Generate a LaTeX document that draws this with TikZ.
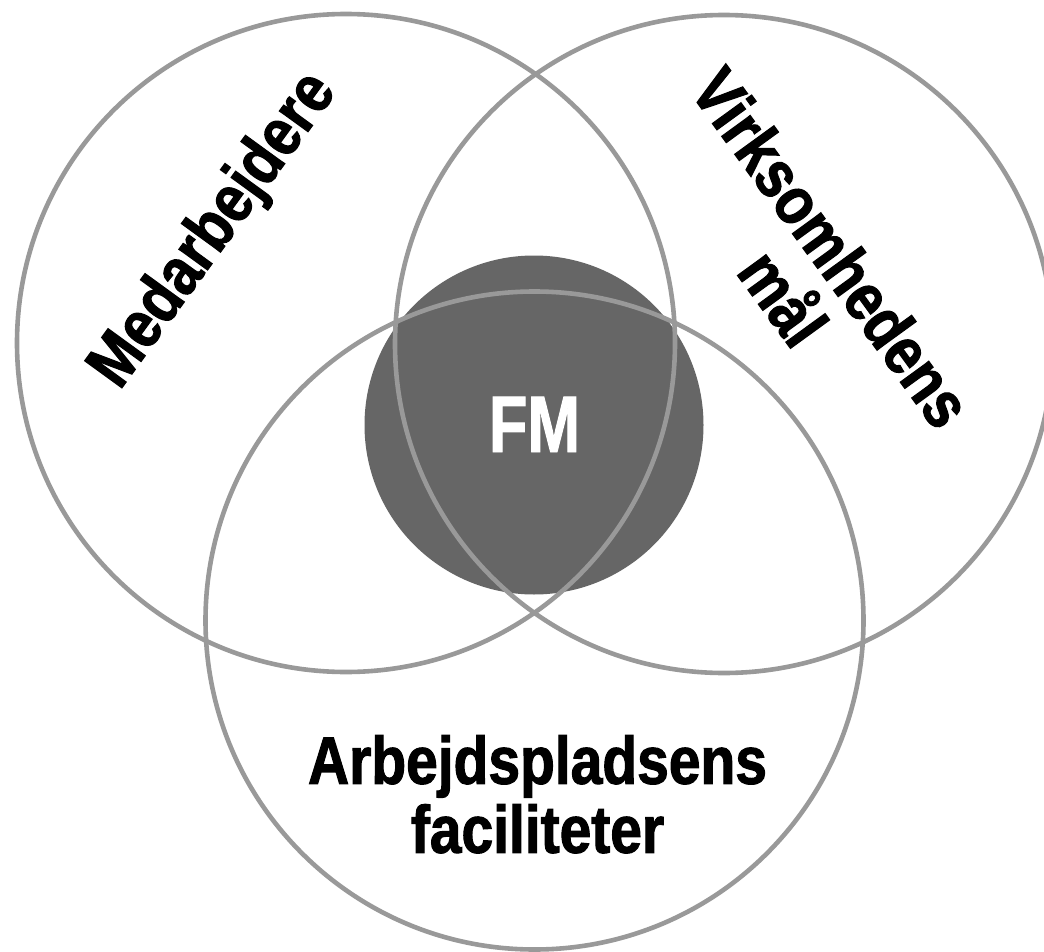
\documentclass[tikz,border=0pt]{standalone}
\usepackage{fontspec}
\setmainfont{Liberation Sans}
\newfontfamily\condfont{Liberation Sans}[FakeStretch=0.85, BoldFeatures={FakeBold=1.6}]
\newfontfamily\fmfont{Liberation Sans}[FakeStretch=0.79, BoldFeatures={FakeBold=1.2}]
\definecolor{ringgray}{HTML}{999999}
\definecolor{fmgray}{HTML}{666666}
\begin{document}
\begin{tikzpicture}[x=1pt,y=-1pt,
  ring/.style={circle, draw=ringgray, line width=4.6pt, minimum size=658pt, inner sep=0pt},
  lbl/.style={font=\condfont\bfseries\fontsize{67}{69}\selectfont, text=black, inner sep=0pt}]
\useasboundingbox (0,0) rectangle (1044,952);
\clip (0,0) rectangle (1044,952);
\fill[white] (0,0) rectangle (1044,952);
% central FM disc
\node[circle, fill=fmgray, minimum size=339pt, inner sep=0pt] (fm) at (534,425) {};
% three rings
\node[ring] (left) at (346,343) {};
\node[ring] (right) at (724,344) {};
\node[ring] (bottom) at (534.5,620.5) {};
% labels
\node[font=\fmfont\bfseries\fontsize{80}{80}\selectfont, text=white, inner sep=0pt, anchor=base] (fmtext) at (534.5,452) {FM};
\node[lbl, rotate=54] (med) at (214.5,231) {Medarbejdere};
\node[lbl, rotate=-54] (virk) at (832,247.5) {Virksomhedens};
\node[lbl, rotate=-54] (maal) at (786,296) {mål};
\node[lbl, align=center, anchor=north] (arb) at (537.5,735) {Arbejdspladsens\\faciliteter};
\end{tikzpicture}
\end{document}
